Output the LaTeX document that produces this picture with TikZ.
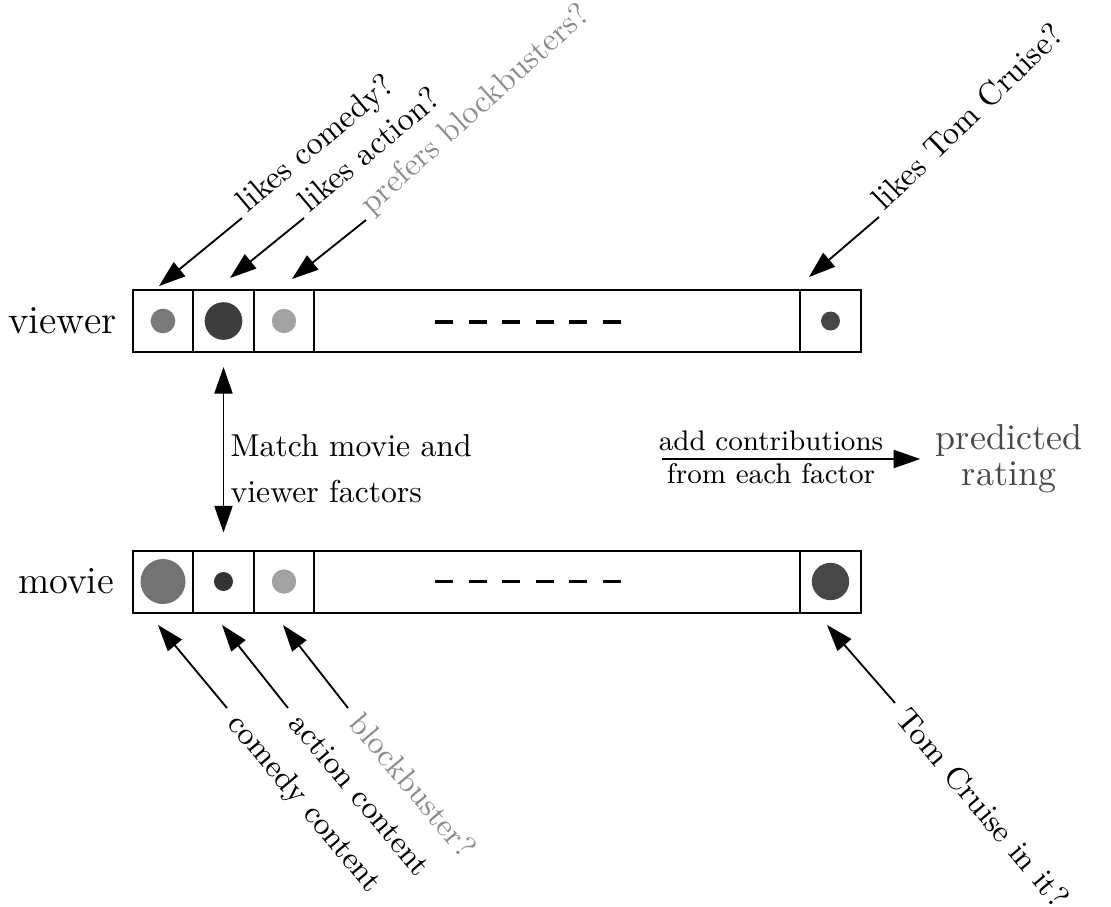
\documentclass[tikz,border=0pt]{standalone}
\usepackage{tikz}
\usetikzlibrary{arrows.meta,positioning}
\tikzset{
  >={Triangle[length=2.8mm,width=1.9mm]},
  cell/.style={draw,line width=0.6pt,inner sep=0pt,outer sep=0pt,minimum height=18.6pt},
  dot/.style={circle,inner sep=0pt,minimum size=#1},
  arrow/.style={->,line width=0.55pt},
  uptag/.style={rotate=#1,anchor=base west,inner xsep=2pt,inner ysep=0pt,font=\fontsize{9.7}{12}\selectfont},
  downtag/.style={rotate=-50,anchor=north west,inner xsep=3.5pt,inner ysep=0pt,text height=3pt,font=\fontsize{9.4}{12}\selectfont},
  dashline/.style={line width=1pt,dash pattern=on 5.4pt off 4.65pt},
}

\begin{document}
\begin{tikzpicture}[x=0.3pt,y=-0.3pt]
\useasboundingbox (0,0) rectangle (1111,906);

\node[cell,minimum width=18pt] (v1) at (163,321) {};
\node[cell,minimum width=18.3pt,right=0pt of v1] (v2) {};
\node[cell,minimum width=18pt,right=0pt of v2] (v3) {};
\node[cell,minimum width=145.8pt,right=0pt of v3] (vmid) {};
\node[cell,minimum width=18.3pt,right=0pt of vmid] (vn) {};
\node[dot=7.4pt,fill=black!52] (v1d) at (v1) {};
\node[dot=11.3pt,fill=black!76] (v2d) at (v2) {};
\node[dot=7.3pt,fill=black!36] (v3d) at (v3) {};
\node[dot=5.7pt,fill=black!72] (vnd) at (vn) {};
\draw[dashline] (435,322) -- (621,322);
\node[inner sep=0pt,font=\fontsize{11.9}{13}\selectfont,left=4.8pt of v1] (vlab) {viewer};

\node[cell,minimum width=18pt] (m1) at (163,581.5) {};
\node[cell,minimum width=18.3pt,right=0pt of m1] (m2) {};
\node[cell,minimum width=18pt,right=0pt of m2] (m3) {};
\node[cell,minimum width=145.8pt,right=0pt of m3] (mmid) {};
\node[cell,minimum width=18.3pt,right=0pt of mmid] (mn) {};
\node[dot=13.5pt,fill=black!55] (m1d) at (m1) {};
\node[dot=5.7pt,fill=black!80] (m2d) at (m2) {};
\node[dot=7.3pt,fill=black!36] (m3d) at (m3) {};
\node[dot=11.2pt,fill=black!72] (mnd) at (mn) {};
\draw[dashline] (435,581.5) -- (621,581.5);
\node[inner sep=0pt,font=\fontsize{11.5}{13}\selectfont,left=5.5pt of m1] (mlab) {movie};

\draw[arrow,<->] ([yshift=-4.5pt]v2.south) -- ([yshift=5.4pt]m2.north);
\node[anchor=west,align=left,inner sep=0pt,font=\fontsize{9.5}{13.8}\selectfont] (match) at (230,469) {Match movie and\\viewer factors};

\node[inner sep=0pt,font=\fontsize{8.5}{10}\selectfont] (addc) at (771,441) {add contributions};
\node[inner sep=0pt,font=\fontsize{8.5}{10}\selectfont] (fromf) at (771,474) {from each factor};
\node[align=center,inner xsep=4.5pt,inner ysep=0pt,text=black!72,font=\fontsize{10.8}{10.8}\selectfont] (pred) at (1009,459) {predicted\\rating};
\coordinate (cstart) at (662,459);
\draw[arrow] (cstart) -- (pred.west);

\coordinate (lcomtip) at (159,286);
\coordinate (lacttip) at (230,278);
\coordinate (lblktip) at (292,279);
\coordinate (ltomtip) at (809,277);
\node[uptag=40] (lcom) at (242,218) {likes comedy?};
\node[uptag=40] (lact) at (304,218) {likes action?};
\node[uptag=42,text=black!45] (lblk) at (366,220) {prefers blockbusters?};
\node[uptag=44] (ltom) at (879,217) {likes Tom Cruise?};
\draw[arrow] (lcom.base west) -- (lcomtip);
\draw[arrow] (lact.base west) -- (lacttip);
\draw[arrow] (lblk.base west) -- (lblktip);
\draw[arrow] (ltom.base west) -- (ltomtip);

\coordinate (ccomtip) at (158,625);
\coordinate (cacttip) at (222,625);
\coordinate (cblktip) at (283,625);
\coordinate (ctomtip) at (827,625);
\node[downtag] (ccom) at (227,708) {comedy content};
\node[downtag] (cact) at (288,708) {action content};
\node[downtag,text=black!45] (cblk) at (348,708) {blockbuster?};
\node[downtag] (ctom) at (895,703) {Tom Cruise in it?};
\draw[arrow] (ccom.north west) -- (ccomtip);
\draw[arrow] (cact.north west) -- (cacttip);
\draw[arrow] (cblk.north west) -- (cblktip);
\draw[arrow] (ctom.north west) -- (ctomtip);
\end{tikzpicture}
\end{document}
